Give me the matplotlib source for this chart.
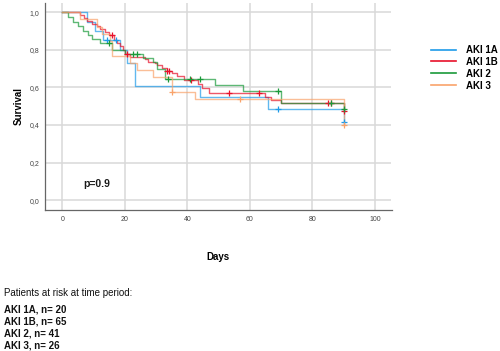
import numpy as np
import matplotlib
matplotlib.use("Agg")
import matplotlib.pyplot as plt

plt.rcParams['font.family'] = ['Liberation Sans', 'DejaVu Sans']

groups = ["AKI 1A", "AKI 1B", "AKI 2", "AKI 3"]
group_n = [20, 65, 41, 26]
colors = ["#1e9be9", "#e8102a", "#1a9a3a", "#f9a36b"]

# step times (days) and survival after each step
t_1a = [0, 7.8, 10.5, 13, 18.5, 20.5, 23.3, 44, 65.8, 90]
s_1a = [1.0, 0.95, 0.90, 0.85, 0.80, 0.73, 0.605, 0.547, 0.487, 0.417]
c_1a = [14.1, 17.1, 68.9, 90]

t_1b = [0, 5.5, 7, 8, 9.5, 11, 12, 13.5, 15, 16.5, 17.5, 18.5, 19.5, 20, 21.6, 26.4, 27.4,
        29.6, 30.1, 31.7, 33.3, 34.9, 36.5, 39, 43.4, 44.5, 47, 64.8, 66.7, 69.9, 90]
s_1b = [1.0, 0.985, 0.97, 0.955, 0.94, 0.925, 0.91, 0.895, 0.88, 0.85, 0.835, 0.82, 0.80, 0.78,
        0.76, 0.75, 0.737, 0.728, 0.72, 0.705, 0.69, 0.678, 0.66, 0.64, 0.62, 0.598, 0.572,
        0.55, 0.533, 0.515, 0.474]
c_1b = [15.7, 20.5, 33.6, 34.1, 41, 53.3, 63, 85, 86, 90]

t_2 = [0, 1.9, 3.5, 5.1, 6.7, 8.3, 9.4, 12, 15.7, 20, 25.9, 29, 30.1, 32.8, 48.7, 57.9, 69.9, 90]
s_2 = [1.0, 0.976, 0.951, 0.927, 0.902, 0.878, 0.86, 0.835, 0.80, 0.78, 0.757, 0.735, 0.70,
       0.645, 0.615, 0.583, 0.519, 0.485]
c_2 = [15, 22.7, 23.7, 33.8, 40.7, 43.9, 68.9, 86, 90]

t_3 = [0, 5.5, 11, 12.5, 15.2, 16, 21.6, 23.7, 29, 34.9, 42.5, 90]
s_3 = [1.0, 0.962, 0.923, 0.885, 0.846, 0.769, 0.731, 0.692, 0.654, 0.577, 0.536, 0.40]
c_3 = [35, 56.8, 90]

series = [(t_1a, s_1a, c_1a), (t_1b, s_1b, c_1b), (t_2, s_2, c_2), (t_3, s_3, c_3)]

x_ticks = [0, 20, 40, 60, 80, 100]
y_ticks = [0.0, 0.2, 0.4, 0.6, 0.8, 1.0]
y_tick_labels = ["0,0", "0,2", "0,4", "0,6", "0,8", "1,0"]

fig = plt.figure(figsize=(5.0, 3.51), dpi=100)
ax = fig.add_axes([0.09, 0.4017, 0.693, 0.59])

for (t, s, c), col, name in zip(series, colors, groups):
    t = np.array(t, float)
    s = np.array(s, float)
    ax.plot(t, s, drawstyle='steps-post', color=col, lw=1.0, alpha=0.7, zorder=3)
    c = np.array(c, float)
    idx = np.searchsorted(t, c, side='right') - 1
    ax.plot(c, s[idx], linestyle='none', marker='+', color=col, ms=3.8, mew=0.9, zorder=4)
    ax.plot([], [], color=col, lw=1.2, label=name)

ax.set_xlim(-5.6, 105.3)
ax.set_ylim(-0.053, 1.05)
ax.set_xticks(x_ticks)
ax.set_xticklabels([str(v) for v in x_ticks])
ax.set_yticks(y_ticks)
ax.set_yticklabels(y_tick_labels)
ax.tick_params(length=0, labelsize=5, labelcolor="#444444", pad=4)
ax.grid(True, color="#d9d9d9", lw=1.1, zorder=0)
ax.set_axisbelow(True)
for sp in ["top", "right"]:
    ax.spines[sp].set_visible(False)
for sp in ["left", "bottom"]:
    ax.spines[sp].set_color("#666666")
    ax.spines[sp].set_linewidth(0.9)

ax.set_ylabel("Survival", fontsize=7, fontweight='bold', labelpad=4)
ax.set_xlabel("Days", fontsize=7, fontweight='bold', labelpad=21)

ax.text(6.5, 0.086, "p=0.9", fontsize=7.5, color="#1a1a1a", va='center', ha='left',
        fontweight='semibold')

leg = fig.legend(loc='upper left', bbox_to_anchor=(0.862, 0.872), frameon=False,
                 fontsize=7, handlelength=2.6, handletextpad=1.0, labelspacing=0.2,
                 borderaxespad=0, borderpad=0)
for txt in leg.get_texts():
    txt.set_fontweight('bold')

fig.text(0.008, 1 - 292.5 / 351, "Patients at risk at time period:", fontsize=7,
         va='center', ha='left', color="#111111")
for i, (name, n) in enumerate(zip(groups, group_n)):
    fig.text(0.008, 1 - (309 + 12 * i) / 351, f"{name}, n= {n}", fontsize=7,
             fontweight='bold', va='center', ha='left', color="#111111")

fig.savefig("out.png", dpi=100)
